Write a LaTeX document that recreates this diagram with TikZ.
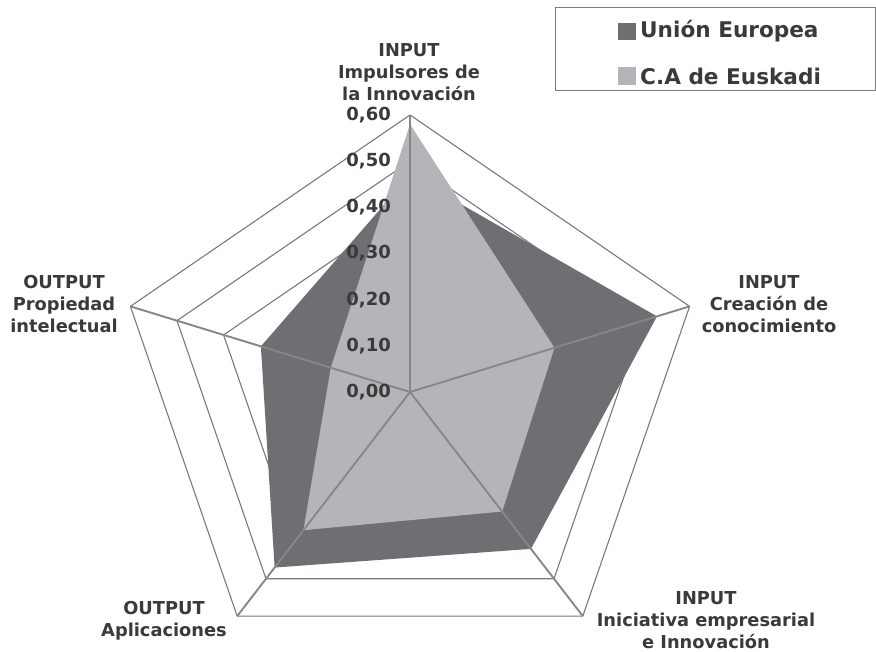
\documentclass[tikz,border=0pt]{standalone}
\usepackage{fontspec}
\setmainfont{DejaVu Sans}
\definecolor{eucol}{HTML}{6E6F73}
\definecolor{eskcol}{HTML}{B4B5B9}
\definecolor{gridcol}{HTML}{7A7A7A}
\definecolor{txtcol}{HTML}{3A3A3A}
\tikzset{
  ring/.style={draw=gridcol, line width=1.1pt, line join=round},
  spoke/.style={draw=gridcol!90, line width=1.9pt},
  axlabel/.style={text=txtcol, font=\bfseries\fontsize{17.8}{22}\selectfont, align=center, inner sep=0pt},
  vallabel/.style={text=txtcol, font=\bfseries\fontsize{18}{20}\selectfont, anchor=east, inner sep=0pt},
  legtext/.style={text=txtcol, font=\bfseries\fontsize{21.6}{24}\selectfont, anchor=west, inner sep=0pt},
}
\begin{document}
\begin{tikzpicture}[x=1pt,y=-1pt]
\path[use as bounding box, fill=white] (0,0) rectangle (876,652);
\coordinate (c) at (410,392);
\begin{scope}[shift={(c)}, x=490pt, y=461.7pt]
% rings
\foreach \r in {0.1,0.2,0.3,0.4,0.5,0.6}{
  \path[ring] (90:\r) -- (18:\r) -- (-54:\r) -- (-126:\r) -- (162:\r) -- cycle;
}
% EU series
\coordinate (e0) at (90:0.47);
\coordinate (e1) at (18:0.53);
\coordinate (e2) at (-54:0.42);
\coordinate (e3) at (-126:0.47);
\coordinate (e4) at (162:0.32);
\fill[eucol] (e0) -- (e1) -- (e2) -- (e3) -- (e4) -- cycle;
% Euskadi series
\coordinate (k0) at (90:0.58);
\coordinate (k1) at (18:0.31);
\coordinate (k2) at (-54:0.32);
\coordinate (k3) at (-126:0.37);
\coordinate (k4) at (162:0.17);
\fill[eskcol] (k0) -- (k1) -- (k2) -- (k3) -- (k4) -- cycle;
% spokes
\coordinate (a0) at (90:0.6);
\coordinate (a1) at (18:0.6);
\coordinate (a2) at (-54:0.6);
\coordinate (a3) at (-126:0.6);
\coordinate (a4) at (162:0.6);
\foreach \k in {0,...,4}{
  \path[spoke] (0,0) -- (a\k);
}
\end{scope}
% value labels
\node[vallabel] (v0) at (391,392) {0,00};
\node[vallabel] (v1) at (391,345.83) {0,10};
\node[vallabel] (v2) at (391,299.66) {0,20};
\node[vallabel] (v3) at (391,253.49) {0,30};
\node[vallabel] (v4) at (391,207.32) {0,40};
\node[vallabel] (v5) at (391,161.15) {0,50};
\node[vallabel] (v6) at (391,114.98) {0,60};
% axis labels
\node[axlabel] (l0) at (409,72) {INPUT\\Impulsores de\\la Innovación};
\node[axlabel] (l1) at (769,304) {INPUT\\Creación de\\conocimiento};
\node[axlabel] (l2) at (706,620) {INPUT\\Iniciativa empresarial\\e Innovación};
\node[axlabel] (l3) at (164,621) {OUTPUT\\Aplicaciones};
\node[axlabel] (l4) at (64,304) {OUTPUT\\Propiedad\\intelectual};
% legend
\draw[gridcol, line width=1pt] (555,8) rectangle (875,91);
\fill[eucol] (618,23) rectangle (636,40);
\fill[eskcol] (618,67) rectangle (636,85);
\node[legtext] (t1) at (640,31) {Unión Europea};
\node[legtext] (t2) at (640,76) {C.A de Euskadi};
\end{tikzpicture}
\end{document}
